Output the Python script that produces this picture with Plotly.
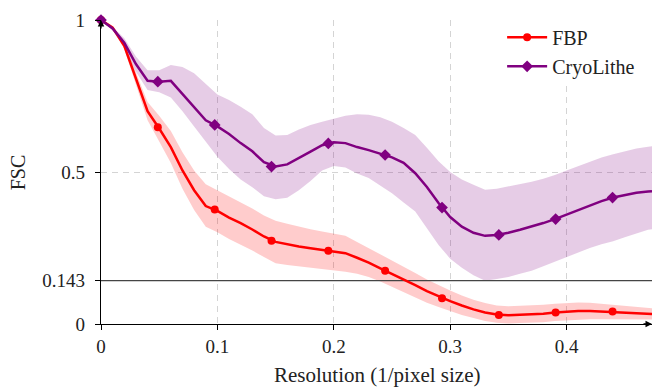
import plotly.graph_objects as go

# ---- data ----
res = [0.00, 0.01, 0.02, 0.03, 0.04, 0.05, 0.06, 0.07, 0.08, 0.09,
       0.10, 0.11, 0.12, 0.13, 0.14, 0.15, 0.16, 0.17, 0.18, 0.19,
       0.20, 0.21, 0.22, 0.23, 0.24, 0.25, 0.26, 0.27, 0.28, 0.29,
       0.30, 0.31, 0.32, 0.33, 0.34, 0.35, 0.36, 0.37, 0.38, 0.39,
       0.40, 0.41, 0.42, 0.43, 0.44, 0.45, 0.46, 0.47, 0.4734]

fbp_mean = [1.000, 0.975, 0.915, 0.810, 0.700, 0.643, 0.582, 0.505, 0.440, 0.388,
            0.372, 0.350, 0.332, 0.311, 0.288, 0.270, 0.262, 0.255, 0.249, 0.244,
            0.239, 0.233, 0.218, 0.202, 0.183, 0.165, 0.147, 0.128, 0.108, 0.091,
            0.075, 0.061, 0.048, 0.038, 0.031, 0.029, 0.030, 0.031, 0.034, 0.038,
            0.041, 0.043, 0.043, 0.041, 0.040, 0.038, 0.036, 0.034, 0.033]
fbp_upper = [1.000, 0.980, 0.925, 0.830, 0.730, 0.685, 0.635, 0.565, 0.505, 0.460,
             0.440, 0.420, 0.400, 0.380, 0.357, 0.340, 0.330, 0.320, 0.312, 0.304,
             0.298, 0.290, 0.270, 0.250, 0.228, 0.210, 0.190, 0.168, 0.146, 0.127,
             0.110, 0.094, 0.080, 0.069, 0.061, 0.058, 0.059, 0.060, 0.063, 0.067,
             0.070, 0.071, 0.070, 0.067, 0.064, 0.060, 0.056, 0.053, 0.052]
fbp_lower = [1.000, 0.970, 0.905, 0.790, 0.670, 0.600, 0.530, 0.445, 0.375, 0.320,
             0.302, 0.280, 0.262, 0.242, 0.220, 0.200, 0.194, 0.190, 0.186, 0.182,
             0.178, 0.172, 0.165, 0.155, 0.140, 0.122, 0.104, 0.088, 0.070, 0.056,
             0.042, 0.030, 0.020, 0.010, 0.004, 0.002, 0.003, 0.004, 0.006, 0.010,
             0.012, 0.015, 0.016, 0.016, 0.016, 0.016, 0.016, 0.016, 0.015]

cryo_mean = [1.000, 0.972, 0.925, 0.855, 0.800, 0.797, 0.800, 0.757, 0.715, 0.670,
             0.650, 0.625, 0.595, 0.568, 0.532, 0.518, 0.525, 0.545, 0.567, 0.588,
             0.598, 0.595, 0.582, 0.572, 0.561, 0.548, 0.530, 0.496, 0.451, 0.398,
             0.352, 0.320, 0.300, 0.290, 0.293, 0.300, 0.310, 0.320, 0.332, 0.345,
             0.360, 0.375, 0.390, 0.404, 0.416, 0.425, 0.432, 0.436, 0.437]
cryo_upper = [1.000, 0.978, 0.940, 0.880, 0.835, 0.835, 0.852, 0.845, 0.825, 0.790,
              0.755, 0.737, 0.715, 0.690, 0.645, 0.620, 0.622, 0.640, 0.655, 0.665,
              0.675, 0.685, 0.690, 0.688, 0.680, 0.665, 0.645, 0.622, 0.580, 0.535,
              0.500, 0.475, 0.458, 0.442, 0.445, 0.452, 0.460, 0.468, 0.478, 0.490,
              0.505, 0.520, 0.535, 0.548, 0.558, 0.568, 0.577, 0.583, 0.585]
cryo_lower = [1.000, 0.965, 0.910, 0.830, 0.770, 0.762, 0.745, 0.700, 0.650, 0.600,
              0.550, 0.510, 0.475, 0.450, 0.420, 0.410, 0.415, 0.440, 0.470, 0.505,
              0.520, 0.515, 0.495, 0.480, 0.455, 0.430, 0.400, 0.370, 0.315, 0.260,
              0.215, 0.185, 0.160, 0.142, 0.148, 0.155, 0.165, 0.175, 0.190, 0.205,
              0.220, 0.235, 0.250, 0.262, 0.272, 0.285, 0.298, 0.310, 0.312]

mark_x = [0.0, 0.0488, 0.0977, 0.1465, 0.1953, 0.2441, 0.2930, 0.3418, 0.3906, 0.4395]
fbp_mark_y = [1.000, 0.647, 0.377, 0.274, 0.241, 0.175, 0.085, 0.030, 0.038, 0.041]
cryo_mark_y = [1.000, 0.797, 0.655, 0.518, 0.594, 0.556, 0.383, 0.293, 0.345, 0.416]

threshold = 0.143
x_ticks = [0, 0.1, 0.2, 0.3, 0.4]
x_ticklabels = ["0", "0.1", "0.2", "0.3", "0.4"]
y_ticks = [0, 0.143, 0.5, 1]
y_ticklabels = ["0", "0.143", "0.5", "1"]
x_max = 0.4734

FONT = "Liberation Serif"
RED = "#ff0000"
PURPLE = "#800080"

fig = go.Figure()

# bands
def band(x, lo, hi, color):
    fig.add_trace(go.Scatter(x=x, y=lo, mode="lines", line=dict(width=0),
                             showlegend=False, hoverinfo="skip"))
    fig.add_trace(go.Scatter(x=x, y=hi, mode="lines", line=dict(width=0),
                             fill="tonexty", fillcolor=color,
                             showlegend=False, hoverinfo="skip"))

band(res, cryo_lower, cryo_upper, "rgba(128,0,128,0.2)")
band(res, fbp_lower, fbp_upper, "rgba(255,0,0,0.2)")

# threshold line
fig.add_trace(go.Scatter(x=[0, x_max], y=[threshold, threshold], mode="lines",
                         line=dict(color="#454545", width=1.3),
                         showlegend=False, hoverinfo="skip"))

# mean curves
fig.add_trace(go.Scatter(x=res, y=fbp_mean, mode="lines",
                         line=dict(color=RED, width=2.5), showlegend=False, cliponaxis=False))
fig.add_trace(go.Scatter(x=mark_x, y=fbp_mark_y, mode="markers",
                         marker=dict(color=RED, size=8, symbol="circle"),
                         showlegend=False, cliponaxis=False))
fig.add_trace(go.Scatter(x=res, y=cryo_mean, mode="lines",
                         line=dict(color=PURPLE, width=2.5), showlegend=False, cliponaxis=False))
fig.add_trace(go.Scatter(x=mark_x, y=cryo_mark_y, mode="markers",
                         marker=dict(color=PURPLE, size=9, symbol="diamond"),
                         showlegend=False, cliponaxis=False))

# legend entries
fig.add_trace(go.Scatter(x=[None], y=[None], mode="lines+markers", name="FBP",
                         line=dict(color=RED, width=2.5),
                         marker=dict(color=RED, size=8, symbol="circle")))
fig.add_trace(go.Scatter(x=[None], y=[None], mode="lines+markers", name="CryoLithe",
                         line=dict(color=PURPLE, width=2.5),
                         marker=dict(color=PURPLE, size=9, symbol="diamond")))

grid = dict(showgrid=True, gridcolor="#d4d4d4", gridwidth=1, griddash="6px,5px")

fig.update_xaxes(range=[0, x_max], tickvals=x_ticks, ticktext=x_ticklabels,
                 showline=True, linecolor="black", linewidth=1.2,
                 ticks="outside", ticklen=5, tickcolor="black", zeroline=False,
                 tickfont=dict(family=FONT, size=19, color="#222"), **grid)
fig.update_yaxes(range=[0, 1], tickvals=y_ticks, ticktext=y_ticklabels,
                 showline=True, linecolor="black", linewidth=1.2,
                 ticks="outside", ticklen=5, tickcolor="black", zeroline=False,
                 ticklabelstandoff=6,
                 tickfont=dict(family=FONT, size=19, color="#222"), **grid)

# axis arrows
fig.add_annotation(x=x_max, y=0, xref="x", yref="y", ax=-10, ay=0,
                   showarrow=True, arrowhead=2, arrowsize=1, arrowwidth=1.3,
                   arrowcolor="black", text="")
fig.add_annotation(x=0, y=1, xref="x", yref="y", ax=0, ay=10,
                   showarrow=True, arrowhead=2, arrowsize=1, arrowwidth=1.3,
                   arrowcolor="black", text="")

# axis titles
fig.add_annotation(text="FSC", xref="paper", yref="paper", x=-0.150, y=0.5,
                   textangle=-90, showarrow=False, xanchor="center", yanchor="middle",
                   font=dict(family=FONT, size=20, color="#222"))
fig.add_annotation(text="Resolution (1/pixel size)", xref="paper", yref="paper",
                   x=0.5, y=-0.168, showarrow=False, xanchor="center", yanchor="middle",
                   font=dict(family=FONT, size=21, color="#222"))

fig.update_layout(
    width=653, height=387,
    margin=dict(l=101, r=1, t=20, b=63),
    plot_bgcolor="white", paper_bgcolor="white",
    legend=dict(x=0.728, y=1.007, xanchor="left", yanchor="top",
                traceorder="normal",
                bgcolor="white", borderwidth=0, itemwidth=40,
                font=dict(family=FONT, size=20, color="#222")),
)

fig.write_html("out.html", config={"displayModeBar": False},
               post_script="document.body.style.margin='0px';")
